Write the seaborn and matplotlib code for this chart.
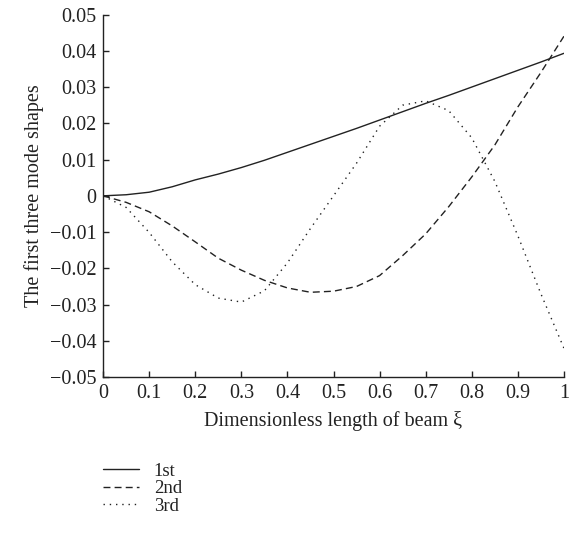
import numpy as np
import pandas as pd
import matplotlib
matplotlib.use("Agg")
import matplotlib.pyplot as plt
import seaborn as sns

# ----------------------------------------------------------
# Data
# ----------------------------------------------------------

xi = [0.00, 0.05, 0.10, 0.15, 0.20, 0.25, 0.30, 0.35, 0.40, 0.45, 0.50,
      0.55, 0.60, 0.65, 0.70, 0.75, 0.80, 0.85, 0.90, 0.95, 1.00]

mode_1st = [0.0000, 0.0003, 0.0010, 0.0025, 0.0044, 0.0060, 0.0078, 0.0098,
            0.0120, 0.0142, 0.0164, 0.0186, 0.0209, 0.0232, 0.0255, 0.0277,
            0.0300, 0.0323, 0.0346, 0.0369, 0.0393]

mode_2nd = [0.0000, -0.0018, -0.0044, -0.0083, -0.0127, -0.0172, -0.0205,
            -0.0233, -0.0254, -0.0266, -0.0263, -0.0250, -0.0220, -0.0165,
            -0.0105, -0.0030, 0.0052, 0.0140, 0.0245, 0.0340, 0.0440]

mode_3rd = [0.0000, -0.0032, -0.0101, -0.0182, -0.0245, -0.0282, -0.0293,
            -0.0262, -0.0185, -0.0090, 0.0000, 0.0090, 0.0192, 0.0250,
            0.0262, 0.0235, 0.0160, 0.0040, -0.0110, -0.0270, -0.0420]

labels = ["1st", "2nd", "3rd"]

df = pd.DataFrame({
    "xi": xi * 3,
    "value": mode_1st + mode_2nd + mode_3rd,
    "mode": [labels[0]] * len(xi) + [labels[1]] * len(xi) + [labels[2]] * len(xi),
})

# ----------------------------------------------------------
# Plot
# ----------------------------------------------------------

sns.set_theme(style="ticks")
plt.rcParams["font.family"] = ["Liberation Serif", "DejaVu Serif"]
plt.rcParams["xtick.direction"] = "in"
plt.rcParams["ytick.direction"] = "in"

ink = "#222222"

fig = plt.figure(figsize=(5.76, 5.38), dpi=100)
ax = fig.add_axes([0.179, 0.299, 0.800, 0.674])

sns.lineplot(
    data=df, x="xi", y="value", style="mode",
    dashes={"1st": "", "2nd": (5, 3), "3rd": (1, 3.5)},
    color=ink, linewidth=1.0, ax=ax, legend=False
)

ax.set_xlim(0, 1)
ax.set_ylim(-0.05, 0.05)
ax.set_xticks(np.arange(0, 1.01, 0.1))
ax.set_xticklabels(["0", "0.1", "0.2", "0.3", "0.4", "0.5", "0.6", "0.7", "0.8", "0.9", "1"])
ax.set_yticks(np.arange(-0.05, 0.051, 0.01))
ax.set_yticklabels(["\u22120.05", "\u22120.04", "\u22120.03", "\u22120.02", "\u22120.01", "0",
                    "0.01", "0.02", "0.03", "0.04", "0.05"])
ax.tick_params(labelsize=14.5, length=4, width=1, pad=5, color=ink, labelcolor=ink)

ax.set_xlabel("Dimensionless length of beam \u03be", fontsize=14.5, color=ink, labelpad=6)
ax.set_ylabel("The first three mode shapes", fontsize=14.5, color=ink, labelpad=4)

for side in ["top", "right"]:
    ax.spines[side].set_visible(False)
for side in ["left", "bottom"]:
    ax.spines[side].set_color(ink)
    ax.spines[side].set_linewidth(1)

handles = ax.get_lines()[:3]
fig.legend(
    handles, labels,
    loc="upper left", bbox_to_anchor=(0.179, 0.140),
    frameon=False, fontsize=13.5, handlelength=1.9, handletextpad=0.8,
    labelspacing=0.02, borderpad=0, borderaxespad=0, labelcolor=ink
)

plt.savefig("out.png", dpi=100)
plt.close()
